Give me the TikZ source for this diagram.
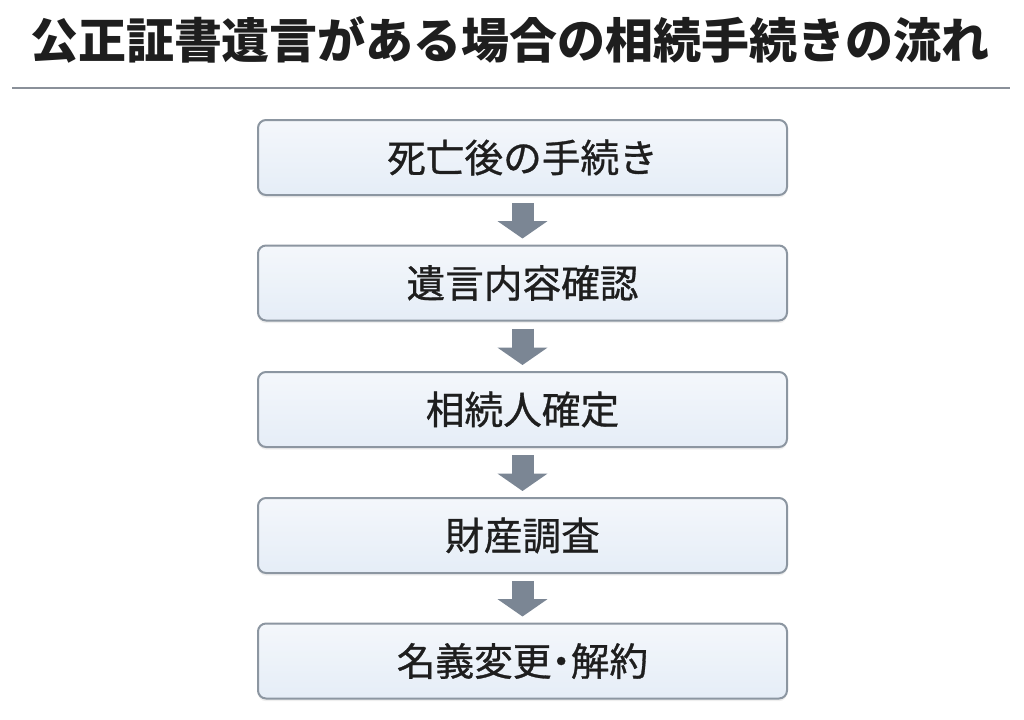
\documentclass[tikz,border=0pt]{standalone}
\usepackage{fontspec}
\setmainfont{Noto Sans CJK JP}
\newfontfamily\jpfont{Noto Sans CJK JP}
\newfontfamily\boxfont[FakeBold=0.8]{Noto Sans CJK JP}
\usetikzlibrary{arrows.meta,shadows,calc}
\definecolor{boxline}{HTML}{8C96A1}
\definecolor{boxtop}{HTML}{F4F7FB}
\definecolor{boxbot}{HTML}{E5EDF7}
\definecolor{arrowc}{HTML}{7B8694}
\definecolor{rulec}{HTML}{8A9099}
\definecolor{textc}{HTML}{1E1E1E}
\begin{document}
\begin{tikzpicture}[x=0.75pt,y=0.75pt,
  stepbox/.style={draw=boxline, line width=1.5pt, rounded corners=6pt,
    top color=boxtop, bottom color=boxbot,
    minimum width=396.75pt, minimum height=56.25pt, inner sep=0pt,
    text=textc, font=\boxfont\fontsize{29pt}{31pt}\selectfont,
    drop shadow={opacity=0.12, shadow xshift=0pt, shadow yshift=-2pt}},
  flow/.style={draw=arrowc, line width=16.5pt,
    -{Triangle[width=36.75pt,length=13pt]}, shorten <=5.25pt, shorten >=4.5pt}]
\useasboundingbox (0,0) rectangle (1024,-719);
\fill[white] (0,0) rectangle (1024,-719);
\node[text=textc, inner sep=0pt] (title) at (510,-40) {\resizebox{720pt}{!}{\jpfont\bfseries 公正証書遺言がある場合の相続手続きの流れ}};
\coordinate (r1) at (12,-88);
\coordinate (r2) at (1010,-88);
\draw[rulec, line width=1.5pt] (r1) -- (r2);
\node[stepbox] (b1) at (522.5,-157.5) {死亡後の手続き};
\node[stepbox] (b2) at (522.5,-283) {遺言内容確認};
\node[stepbox] (b3) at (522.5,-409.5) {相続人確定};
\node[stepbox] (b4) at (522.5,-535.5) {財産調査};
\node[stepbox] (b5) at (522.5,-661) {名義変更\kern-0.25em・\kern-0.25em解約};
\draw[flow] (b1.south) -- (b2.north);
\draw[flow] (b2.south) -- (b3.north);
\draw[flow] (b3.south) -- (b4.north);
\draw[flow] (b4.south) -- (b5.north);
\end{tikzpicture}
\end{document}
